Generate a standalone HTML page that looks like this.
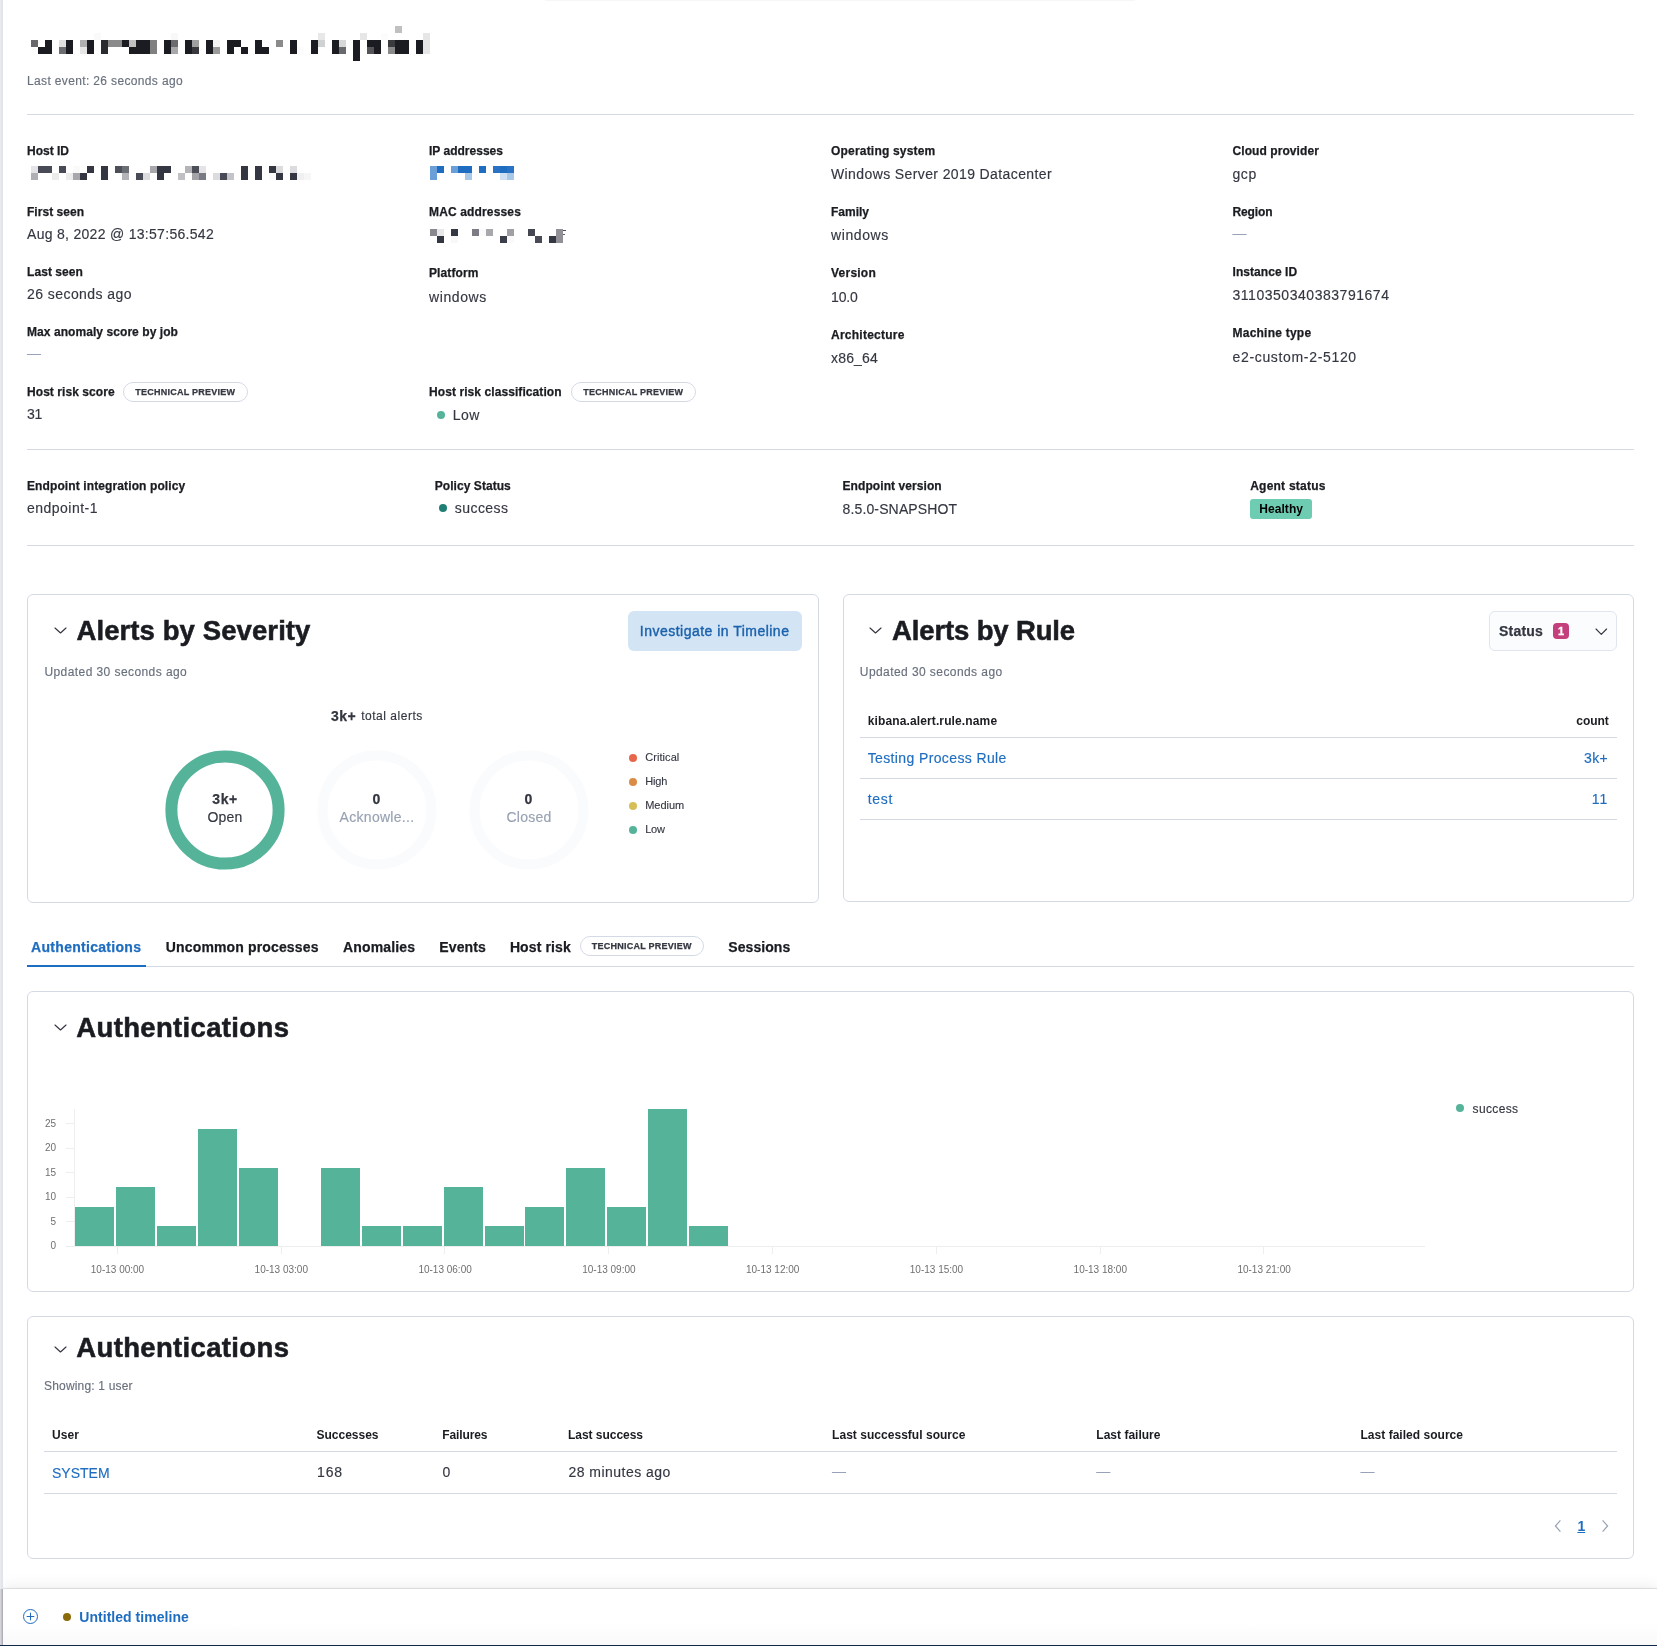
<!DOCTYPE html>
<html lang="en"><head><meta charset="utf-8"><title>Host details</title>
<style>
html,body{margin:0;padding:0;background:#fff;}
body{width:1657px;height:1646px;position:relative;overflow:hidden;font-family:"Liberation Sans",sans-serif;color:#343741;}
#root{position:absolute;left:0;top:0;width:1657px;height:1646px;will-change:transform;}
.t{position:absolute;white-space:nowrap;line-height:20px;height:20px;}
.px{position:absolute;display:block;overflow:visible;}
.hr{position:absolute;left:27px;width:1607px;height:1px;background:#d3dae6;}
.tr{position:absolute;height:1px;background:#d3dae6;}
.sub{font-size:12px;color:#69707d;-webkit-text-stroke:0.15px;}
.dt{font-size:12px;font-weight:700;color:#1a1c21;-webkit-text-stroke:0.25px #1a1c21;}
.dd{font-size:14px;color:#343741;-webkit-text-stroke:0.15px;}
.dash{color:#98a2b8;margin-top:-1px;}
.mute{color:#98a2b3;}
.link{color:#1f6dc0;}
.th{margin-top:1px;font-size:12px;font-weight:700;color:#1a1c21;}
.h2{font-size:27.5px;font-weight:700;color:#1a1c21;line-height:32px;height:32px;margin-top:-6px;-webkit-text-stroke:0.55px;}
.b14{-webkit-text-stroke:0.25px;font-size:14px;font-weight:700;color:#343741;}
.s12{font-size:12px;color:#343741;-webkit-text-stroke:0.15px;}
.leg{font-size:11px;color:#343741;-webkit-text-stroke:0.12px;margin-top:-0.7px;}
.tab{-webkit-text-stroke:0.25px;font-size:14px;font-weight:700;color:#1a1c21;}
.tab.link{color:#1f6dc0;}
.tl{font-size:14px;font-weight:700;color:#1f6dc0;}
.btnt{font-size:14px;font-weight:400;color:#1b62ad;-webkit-text-stroke:0.4px;}
.hb{font-size:12px;font-weight:700;color:#000;}
.betat{-webkit-text-stroke:0.25px;font-size:9px;font-weight:700;color:#343741;}
.nbt{font-size:11px;font-weight:700;color:#fff;-webkit-text-stroke:0.3px;}
.pg{font-size:14px;font-weight:700;color:#1f6dc0;text-decoration:underline;}
.beta{position:absolute;height:18px;border:1px solid #d3dae6;border-radius:10px;box-sizing:content-box;width:122px;}
.dot{position:absolute;width:8px;height:8px;border-radius:50%;}
.healthy{position:absolute;background:#6dccb1;border-radius:3px;}
.panel{position:absolute;box-sizing:border-box;border:1px solid #d3dae6;border-radius:6px;background:#fff;}
.btn{position:absolute;background:#d3e4f5;border-radius:6px;}
.sbtn{position:absolute;box-sizing:border-box;background:#fbfcfd;border:1px solid #e0e5f0;border-radius:6px;}
.nb{position:absolute;width:16px;height:16px;border-radius:4px;background:#c4407c;}
.tabsel{position:absolute;height:2px;background:#1f6dc0;}
.flyout{position:absolute;left:3px;top:1589px;width:1654px;height:56px;background:linear-gradient(#fff 0,#fff 60%,#f9f9f9 100%);box-shadow:0 -1px 1px rgba(0,0,0,.10),0 -3px 14px rgba(0,0,0,.07);}
.navy{position:absolute;left:0;top:1644.7px;width:1657px;height:1.3px;background:#10294a;}
.strip2{position:absolute;left:0;top:1589px;width:3px;height:56px;background:linear-gradient(90deg,#dcdce2 0,#c4c4cc 50%,#a4a5ae 100%);}
.strip{position:absolute;left:0;top:0;width:3px;height:1645px;background:linear-gradient(90deg,#e9e9ee 0,#e9e9ee 33.3%,#e4e4e9 33.3%,#e4e4e9 66.6%,#dfe3ed 66.6%,#dfe3ed 100%);}
</style></head>
<body>
<div id="root">
<svg class="px" style="left:31px;top:26px" width="399" height="35" shape-rendering="crispEdges"><rect x="0" y="14" width="7" height="7" fill="#69696b"/><rect x="0" y="21" width="7" height="7" fill="#fdfdfd"/><rect x="7" y="21" width="7" height="7" fill="#1a1c21"/><rect x="14" y="14" width="7" height="7" fill="#1a1c21"/><rect x="14" y="21" width="7" height="7" fill="#1a1c21"/><rect x="28" y="14" width="7" height="7" fill="#e0e0e0"/><rect x="28" y="21" width="7" height="7" fill="#6c6d70"/><rect x="35" y="14" width="7" height="7" fill="#1a1c21"/><rect x="35" y="21" width="7" height="7" fill="#1a1c21"/><rect x="49" y="14" width="7" height="7" fill="#b0b0b2"/><rect x="49" y="21" width="7" height="7" fill="#e6e6e6"/><rect x="56" y="14" width="7" height="7" fill="#1a1c21"/><rect x="56" y="21" width="7" height="7" fill="#1a1c21"/><rect x="63" y="7" width="7" height="7" fill="#fafafa"/><rect x="70" y="14" width="7" height="7" fill="#2a2b2f"/><rect x="70" y="21" width="7" height="7" fill="#2a2b2f"/><rect x="77" y="14" width="7" height="7" fill="#8a8a8b"/><rect x="84" y="14" width="7" height="7" fill="#8a8a8b"/><rect x="91" y="14" width="7" height="7" fill="#1a1c21"/><rect x="98" y="14" width="7" height="7" fill="#c0c0c0"/><rect x="98" y="21" width="7" height="7" fill="#1a1c21"/><rect x="105" y="14" width="7" height="7" fill="#1a1c21"/><rect x="105" y="21" width="7" height="7" fill="#1a1c21"/><rect x="112" y="14" width="7" height="7" fill="#1a1c21"/><rect x="112" y="21" width="7" height="7" fill="#1a1c21"/><rect x="119" y="14" width="7" height="7" fill="#808081"/><rect x="119" y="21" width="7" height="7" fill="#808081"/><rect x="133" y="14" width="7" height="7" fill="#1a1c21"/><rect x="133" y="21" width="7" height="7" fill="#1a1c21"/><rect x="140" y="7" width="7" height="7" fill="#f8f8f8"/><rect x="140" y="14" width="7" height="7" fill="#6b6b6d"/><rect x="140" y="21" width="7" height="7" fill="#a8a8aa"/><rect x="154" y="14" width="7" height="7" fill="#1a1c21"/><rect x="154" y="21" width="7" height="7" fill="#1a1c21"/><rect x="161" y="14" width="7" height="7" fill="#a0a0a1"/><rect x="161" y="21" width="7" height="7" fill="#38393d"/><rect x="175" y="14" width="7" height="7" fill="#1a1c21"/><rect x="175" y="21" width="7" height="7" fill="#1a1c21"/><rect x="182" y="14" width="7" height="7" fill="#f4f4f4"/><rect x="182" y="21" width="7" height="7" fill="#9a9a9b"/><rect x="196" y="14" width="7" height="7" fill="#1a1c21"/><rect x="196" y="21" width="7" height="7" fill="#1a1c21"/><rect x="203" y="14" width="7" height="7" fill="#1a1c21"/><rect x="210" y="21" width="7" height="7" fill="#1a1c21"/><rect x="224" y="14" width="7" height="7" fill="#1a1c21"/><rect x="224" y="21" width="7" height="7" fill="#1a1c21"/><rect x="231" y="14" width="7" height="7" fill="#fdfdfd"/><rect x="231" y="21" width="7" height="7" fill="#1a1c21"/><rect x="245" y="14" width="7" height="7" fill="#8a8a8b"/><rect x="259" y="14" width="7" height="7" fill="#1a1c21"/><rect x="259" y="21" width="7" height="7" fill="#1a1c21"/><rect x="266" y="21" width="7" height="7" fill="#fcfcfc"/><rect x="280" y="14" width="7" height="7" fill="#1a1c21"/><rect x="280" y="21" width="7" height="7" fill="#1a1c21"/><rect x="287" y="7" width="7" height="7" fill="#e8e8e8"/><rect x="287" y="14" width="7" height="7" fill="#d0d1d3"/><rect x="301" y="14" width="7" height="7" fill="#1a1c21"/><rect x="301" y="21" width="7" height="7" fill="#1a1c21"/><rect x="308" y="14" width="7" height="7" fill="#d8d8d8"/><rect x="308" y="21" width="7" height="7" fill="#68696c"/><rect x="322" y="14" width="7" height="7" fill="#1a1c21"/><rect x="322" y="21" width="7" height="7" fill="#1a1c21"/><rect x="322" y="28" width="7" height="7" fill="#1a1c21"/><rect x="329" y="7" width="7" height="7" fill="#e6e6e6"/><rect x="336" y="14" width="7" height="7" fill="#1a1c21"/><rect x="336" y="21" width="7" height="7" fill="#555558"/><rect x="343" y="14" width="7" height="7" fill="#1a1c21"/><rect x="343" y="21" width="7" height="7" fill="#1a1c21"/><rect x="350" y="7" width="7" height="7" fill="#fcfcfc"/><rect x="357" y="14" width="7" height="7" fill="#3a3b3f"/><rect x="357" y="21" width="7" height="7" fill="#8a8a8b"/><rect x="364" y="0" width="7" height="7" fill="#c0c0c0"/><rect x="364" y="14" width="7" height="7" fill="#1a1c21"/><rect x="364" y="21" width="7" height="7" fill="#1a1c21"/><rect x="371" y="14" width="7" height="7" fill="#1a1c21"/><rect x="371" y="21" width="7" height="7" fill="#1a1c21"/><rect x="385" y="14" width="7" height="7" fill="#1a1c21"/><rect x="385" y="21" width="7" height="7" fill="#1a1c21"/><rect x="392" y="7" width="7" height="7" fill="#e6e6e6"/><rect x="392" y="14" width="7" height="7" fill="#e6e6e6"/><rect x="392" y="21" width="7" height="7" fill="#e6e6e6"/></svg>
<svg class="px" style="left:31px;top:166px" width="280" height="14" shape-rendering="crispEdges"><rect x="0" y="0" width="7" height="7" fill="#e4e4e6"/><rect x="0" y="7" width="7" height="7" fill="#b0b0b4"/><rect x="7" y="0" width="7" height="7" fill="#484a55"/><rect x="14" y="0" width="7" height="7" fill="#484a55"/><rect x="21" y="7" width="7" height="7" fill="#ececec"/><rect x="28" y="0" width="7" height="7" fill="#484a55"/><rect x="35" y="7" width="7" height="7" fill="#ececec"/><rect x="42" y="0" width="7" height="7" fill="#fafafa"/><rect x="42" y="7" width="7" height="7" fill="#a8a8ac"/><rect x="49" y="7" width="7" height="7" fill="#343741"/><rect x="56" y="0" width="7" height="7" fill="#343741"/><rect x="70" y="0" width="7" height="7" fill="#343741"/><rect x="70" y="7" width="7" height="7" fill="#343741"/><rect x="84" y="0" width="7" height="7" fill="#4c4e58"/><rect x="91" y="0" width="7" height="7" fill="#6c6e76"/><rect x="91" y="7" width="7" height="7" fill="#b4b4b8"/><rect x="105" y="7" width="7" height="7" fill="#484a55"/><rect x="112" y="7" width="7" height="7" fill="#dcdcde"/><rect x="119" y="0" width="7" height="7" fill="#a8a8ac"/><rect x="126" y="0" width="7" height="7" fill="#343741"/><rect x="126" y="7" width="7" height="7" fill="#343741"/><rect x="133" y="0" width="7" height="7" fill="#343741"/><rect x="147" y="7" width="7" height="7" fill="#c0c0c4"/><rect x="154" y="0" width="7" height="7" fill="#b4b4b8"/><rect x="161" y="0" width="7" height="7" fill="#4c4e58"/><rect x="161" y="7" width="7" height="7" fill="#a4a4a8"/><rect x="168" y="0" width="7" height="7" fill="#e4e4e6"/><rect x="168" y="7" width="7" height="7" fill="#787a84"/><rect x="182" y="7" width="7" height="7" fill="#dcdcde"/><rect x="189" y="7" width="7" height="7" fill="#484a55"/><rect x="196" y="7" width="7" height="7" fill="#c4c4c8"/><rect x="210" y="0" width="7" height="7" fill="#343741"/><rect x="210" y="7" width="7" height="7" fill="#343741"/><rect x="224" y="0" width="7" height="7" fill="#343741"/><rect x="224" y="7" width="7" height="7" fill="#343741"/><rect x="238" y="0" width="7" height="7" fill="#343741"/><rect x="238" y="7" width="7" height="7" fill="#fafafa"/><rect x="245" y="0" width="7" height="7" fill="#dcdcde"/><rect x="245" y="7" width="7" height="7" fill="#343741"/><rect x="259" y="0" width="7" height="7" fill="#dcdcde"/><rect x="259" y="7" width="7" height="7" fill="#343741"/><rect x="266" y="7" width="7" height="7" fill="#f0f0f0"/><rect x="273" y="7" width="7" height="7" fill="#f6f6f6"/></svg>
<svg class="px" style="left:430px;top:166px" width="84" height="14" shape-rendering="crispEdges"><rect x="0" y="0" width="7" height="7" fill="#6a9fd8"/><rect x="0" y="7" width="7" height="7" fill="#6a9fd8"/><rect x="7" y="0" width="7" height="7" fill="#1f6dc0"/><rect x="21" y="0" width="7" height="7" fill="#6a9fd8"/><rect x="28" y="0" width="7" height="7" fill="#1f6dc0"/><rect x="35" y="0" width="7" height="7" fill="#1f6dc0"/><rect x="35" y="7" width="7" height="7" fill="#a8c8e8"/><rect x="49" y="0" width="7" height="7" fill="#1f6dc0"/><rect x="63" y="0" width="7" height="7" fill="#2a72c4"/><rect x="70" y="0" width="7" height="7" fill="#1f6dc0"/><rect x="70" y="7" width="7" height="7" fill="#cfe0f2"/><rect x="77" y="0" width="7" height="7" fill="#2a72c4"/><rect x="77" y="7" width="7" height="7" fill="#a8c8e8"/></svg>
<svg class="px" style="left:430px;top:229px" width="140" height="14" shape-rendering="crispEdges"><rect x="0" y="0" width="7" height="7" fill="#88888e"/><rect x="7" y="0" width="7" height="7" fill="#e8e8ea"/><rect x="7" y="7" width="7" height="7" fill="#343741"/><rect x="21" y="0" width="7" height="7" fill="#343741"/><rect x="21" y="7" width="7" height="7" fill="#f8f8f8"/><rect x="42" y="0" width="7" height="7" fill="#7c7c84"/><rect x="49" y="0" width="7" height="7" fill="#fafafa"/><rect x="56" y="0" width="7" height="7" fill="#a8a8ac"/><rect x="70" y="7" width="7" height="7" fill="#3c3e4a"/><rect x="77" y="0" width="7" height="7" fill="#a0a0a4"/><rect x="77" y="7" width="7" height="7" fill="#fafafa"/><rect x="98" y="0" width="7" height="7" fill="#444650"/><rect x="105" y="7" width="7" height="7" fill="#484a55"/><rect x="119" y="7" width="7" height="7" fill="#343741"/><rect x="126" y="0" width="7" height="7" fill="#909096"/><rect x="126" y="7" width="7" height="7" fill="#909096"/><rect x="133" y="1" width="2.8" height="1" fill="#4a4c58"/><rect x="133" y="5.2" width="2" height="1" fill="#5a5c66"/></svg>
<div class="t sub" style="top:70.5px;left:27.0px;letter-spacing:0.354px;">Last event: 26 seconds ago</div>
<div class="hr" style="top:114px"></div>
<div class="t dt" style="top:140.5px;left:27.0px;letter-spacing:0.000px;">Host ID</div>
<div class="t dt" style="top:201.5px;left:27.0px;letter-spacing:0.030px;">First seen</div>
<div class="t dd" style="top:224.0px;left:27.0px;letter-spacing:0.298px;">Aug 8, 2022 @ 13:57:56.542</div>
<div class="t dt" style="top:261.5px;left:27.0px;letter-spacing:0.071px;">Last seen</div>
<div class="t dd" style="top:284.0px;left:27.0px;letter-spacing:0.438px;">26 seconds ago</div>
<div class="t dt" style="top:321.5px;left:27.0px;letter-spacing:0.067px;">Max anomaly score by job</div>
<div class="t dd dash" style="top:343.5px;left:27.0px;letter-spacing:0.000px;">—</div>
<div class="t dt" style="top:381.5px;left:27.0px;letter-spacing:0.066px;">Host risk score</div>
<div class="beta" style="box-sizing:border-box;height:20px;left:123px;top:382px;width:124.5px"></div>
<div class="t betat" style="top:382.0px;left:135.3px;letter-spacing:0.244px;">TECHNICAL PREVIEW</div>
<div class="t dd" style="top:404.0px;left:27.0px;letter-spacing:-0.289px;">31</div>
<div class="t dt" style="top:140.5px;left:429.0px;letter-spacing:0.014px;">IP addresses</div>
<div class="t dt" style="top:201.5px;left:429.0px;letter-spacing:0.150px;">MAC addresses</div>
<div class="t dt" style="top:262.5px;left:429.0px;letter-spacing:0.115px;">Platform</div>
<div class="t dd" style="top:287.0px;left:429.0px;letter-spacing:0.585px;">windows</div>
<div class="t dt" style="top:381.5px;left:429.0px;letter-spacing:0.082px;">Host risk classification</div>
<div class="beta" style="box-sizing:border-box;height:20px;left:571px;top:382px;width:124.5px"></div>
<div class="t betat" style="top:382.0px;left:583.3px;letter-spacing:0.244px;">TECHNICAL PREVIEW</div>
<div class="dot" style="left:437px;top:411px;background:#54b399"></div>
<div class="t dd" style="top:405.0px;left:452.8px;letter-spacing:0.438px;">Low</div>
<div class="t dt" style="top:140.5px;left:831.0px;letter-spacing:0.195px;">Operating system</div>
<div class="t dd" style="top:164.0px;left:831.0px;letter-spacing:0.389px;">Windows Server 2019 Datacenter</div>
<div class="t dt" style="top:201.5px;left:831.0px;letter-spacing:-0.003px;">Family</div>
<div class="t dd" style="top:225.0px;left:831.0px;letter-spacing:0.585px;">windows</div>
<div class="t dt" style="top:262.5px;left:831.0px;letter-spacing:0.234px;">Version</div>
<div class="t dd" style="top:287.0px;left:831.0px;letter-spacing:-0.113px;">10.0</div>
<div class="t dt" style="top:324.5px;left:831.0px;letter-spacing:0.251px;">Architecture</div>
<div class="t dd" style="top:348.0px;left:831.0px;letter-spacing:0.177px;">x86_64</div>
<div class="t dt" style="top:140.5px;left:1232.5px;letter-spacing:0.076px;">Cloud provider</div>
<div class="t dd" style="top:164.0px;left:1232.5px;letter-spacing:0.572px;">gcp</div>
<div class="t dt" style="top:201.5px;left:1232.5px;letter-spacing:-0.112px;">Region</div>
<div class="t dd dash" style="top:224.0px;left:1232.5px;letter-spacing:0.000px;">—</div>
<div class="t dt" style="top:261.5px;left:1232.5px;letter-spacing:0.061px;">Instance ID</div>
<div class="t dd" style="top:285.0px;left:1232.5px;letter-spacing:0.531px;">3110350340383791674</div>
<div class="t dt" style="top:322.5px;left:1232.5px;letter-spacing:0.231px;">Machine type</div>
<div class="t dd" style="top:347.0px;left:1232.5px;letter-spacing:0.667px;">e2-custom-2-5120</div>
<div class="hr" style="top:449px"></div>
<div class="t dt" style="top:475.5px;left:27.0px;letter-spacing:0.110px;">Endpoint integration policy</div>
<div class="t dd" style="top:498.0px;left:27.0px;letter-spacing:0.483px;">endpoint-1</div>
<div class="t dt" style="top:475.5px;left:434.8px;letter-spacing:0.049px;">Policy Status</div>
<div class="dot" style="left:439px;top:504px;background:#1f7f75"></div>
<div class="t dd" style="top:498.0px;left:454.8px;letter-spacing:0.431px;">success</div>
<div class="t dt" style="top:475.5px;left:842.5px;letter-spacing:0.080px;">Endpoint version</div>
<div class="t dd" style="top:499.0px;left:842.5px;letter-spacing:0.141px;">8.5.0-SNAPSHOT</div>
<div class="t dt" style="top:475.5px;left:1250.2px;letter-spacing:0.227px;">Agent status</div>
<div class="healthy" style="left:1250px;top:499px;width:62px;height:20px"></div>
<div class="t hb" style="top:499.3px;left:1259.2px;letter-spacing:0.078px;">Healthy</div>
<div class="hr" style="top:545px"></div>
<div class="panel" style="left:27px;top:594px;width:792px;height:309px"></div>
<svg class="px" style="left:53.7px;top:627.4px" width="13" height="7" viewBox="-1 -1 13 7"><path d="M0 0 L5.5 5 L11 0" fill="none" stroke="#343741" stroke-width="1.15" stroke-linecap="round" stroke-linejoin="round"/></svg>
<div class="t h2" style="top:620.5px;left:76.5px;letter-spacing:0.092px;">Alerts by Severity</div>
<div class="btn" style="left:628px;top:611px;width:174px;height:40px"></div>
<div class="t btnt" style="top:621.0px;left:639.8px;letter-spacing:0.482px;">Investigate in Timeline</div>
<div class="t sub" style="top:661.5px;left:44.4px;letter-spacing:0.425px;">Updated 30 seconds ago</div>
<div class="t b14" style="top:705.5px;left:331.0px;letter-spacing:0.515px;">3k+</div>
<div class="t s12" style="top:705.8px;left:361.2px;letter-spacing:0.519px;">total alerts</div>
<svg class="px" style="left:160px;top:745px" width="440" height="130">
<circle cx="65" cy="65" r="53.6" fill="none" stroke="#54b399" stroke-width="12"/>
<circle cx="217" cy="65" r="54.5" fill="none" stroke="#fafbfd" stroke-width="10"/>
<circle cx="369" cy="65" r="54.5" fill="none" stroke="#fafbfd" stroke-width="10"/>
</svg>
<div class="t b14" style="top:788.6px;left:25.0px;width:400px;text-align:center;letter-spacing:0.515px;"><span>3k+</span></div>
<div class="t dd" style="top:807.0px;left:25.0px;width:400px;text-align:center;letter-spacing:0.188px;"><span>Open</span></div>
<div class="t b14" style="top:788.6px;left:177.0px;width:400px;text-align:center;letter-spacing:1.203px;"><span>0</span></div>
<div class="t dd mute" style="top:807.0px;left:177.0px;width:400px;text-align:center;letter-spacing:0.291px;"><span>Acknowle...</span></div>
<div class="t b14" style="top:788.6px;left:329.0px;width:400px;text-align:center;letter-spacing:1.203px;"><span>0</span></div>
<div class="t dd mute" style="top:807.0px;left:329.0px;width:400px;text-align:center;letter-spacing:0.237px;"><span>Closed</span></div>
<div class="dot" style="left:628.5px;top:753.5px;background:#e7664c"></div>
<div class="t leg" style="top:747.5px;left:645.2px;letter-spacing:0.072px;">Critical</div>
<div class="dot" style="left:628.5px;top:777.5px;background:#da8b45"></div>
<div class="t leg" style="top:771.5px;left:645.2px;letter-spacing:-0.156px;">High</div>
<div class="dot" style="left:628.5px;top:801.5px;background:#d6bf57"></div>
<div class="t leg" style="top:795.5px;left:645.2px;letter-spacing:-0.021px;">Medium</div>
<div class="dot" style="left:628.5px;top:825.5px;background:#54b399"></div>
<div class="t leg" style="top:819.5px;left:645.2px;letter-spacing:-0.195px;">Low</div>
<div class="panel" style="left:843px;top:594px;width:791px;height:308px"></div>
<svg class="px" style="left:869.1px;top:627.4px" width="13" height="7" viewBox="-1 -1 13 7"><path d="M0 0 L5.5 5 L11 0" fill="none" stroke="#343741" stroke-width="1.15" stroke-linecap="round" stroke-linejoin="round"/></svg>
<div class="t h2" style="top:620.5px;left:892.0px;letter-spacing:-0.137px;">Alerts by Rule</div>
<div class="sbtn" style="left:1489px;top:611px;width:128px;height:40px"></div>
<div class="t b14" style="top:621.0px;left:1499.0px;letter-spacing:0.201px;">Status</div>
<div class="nb" style="left:1553px;top:623px"></div>
<div class="t nbt" style="top:621.0px;left:1361.0px;width:400px;text-align:center;"><span>1</span></div>
<svg class="px" style="left:1594.7px;top:627.6px" width="12.6" height="7.3" viewBox="-1 -1 12.6 7.3"><path d="M0 0 L5.3 5.3 L10.6 0" fill="none" stroke="#343741" stroke-width="1.15" stroke-linecap="round" stroke-linejoin="round"/></svg>
<div class="t sub" style="top:661.5px;left:859.8px;letter-spacing:0.425px;">Updated 30 seconds ago</div>
<div class="t th" style="top:710.4px;left:867.7px;letter-spacing:0.126px;">kibana.alert.rule.name</div>
<div class="t th" style="top:710.4px;right:48.4px;letter-spacing:-0.075px;">count</div>
<div class="tr" style="left:860px;top:737px;width:757px"></div>
<div class="t dd link" style="top:747.8px;left:867.7px;letter-spacing:0.375px;">Testing Process Rule</div>
<div class="t dd link" style="top:747.8px;right:48.8px;letter-spacing:0.442px;">3k+</div>
<div class="tr" style="left:860px;top:778px;width:757px"></div>
<div class="t dd link" style="top:789.0px;left:867.7px;letter-spacing:0.683px;">test</div>
<div class="t dd link" style="top:789.0px;right:48.8px;letter-spacing:0.926px;">11</div>
<div class="tr" style="left:860px;top:819px;width:757px"></div>
<div class="t tab link" style="top:937.0px;left:31.1px;letter-spacing:0.294px;">Authentications</div>
<div class="hr" style="top:966px"></div>
<div class="tabsel" style="left:27px;top:965px;width:119px"></div>
<div class="t tab" style="top:937.0px;left:165.8px;letter-spacing:0.146px;">Uncommon processes</div>
<div class="t tab" style="top:937.0px;left:343.1px;letter-spacing:0.132px;">Anomalies</div>
<div class="t tab" style="top:937.0px;left:439.3px;letter-spacing:0.113px;">Events</div>
<div class="t tab" style="top:937.0px;left:509.9px;letter-spacing:0.120px;">Host risk</div>
<div class="beta" style="box-sizing:border-box;height:20px;left:579.5px;top:936px;width:124.5px"></div>
<div class="t betat" style="top:936.0px;left:591.8px;letter-spacing:0.244px;">TECHNICAL PREVIEW</div>
<div class="t tab" style="top:937.0px;left:728.3px;letter-spacing:0.064px;">Sessions</div>
<div class="panel" style="left:27px;top:991px;width:1607px;height:301px"></div>
<svg class="px" style="left:53.7px;top:1024.1px" width="13" height="7" viewBox="-1 -1 13 7"><path d="M0 0 L5.5 5 L11 0" fill="none" stroke="#343741" stroke-width="1.15" stroke-linecap="round" stroke-linejoin="round"/></svg>
<div class="t h2" style="top:1018.3px;left:76.3px;letter-spacing:0.347px;">Authentications</div>
<svg class="px" style="left:0;top:1095px" width="1657" height="190" font-family="Liberation Sans, sans-serif"><g stroke="#eeeeee" stroke-width="1" shape-rendering="crispEdges"><line x1="66" y1="151.5" x2="1425" y2="151.5"/><line x1="74.5" y1="14" x2="74.5" y2="151"/><line x1="66" y1="151.5" x2="74" y2="151.5"/><line x1="66" y1="126.5" x2="74" y2="126.5"/><line x1="66" y1="102.5" x2="74" y2="102.5"/><line x1="66" y1="77.5" x2="74" y2="77.5"/><line x1="66" y1="53.5" x2="74" y2="53.5"/><line x1="66" y1="28.5" x2="74" y2="28.5"/><line x1="117.5" y1="151" x2="117.5" y2="159"/><line x1="281.5" y1="151" x2="281.5" y2="159"/><line x1="444.5" y1="151" x2="444.5" y2="159"/><line x1="608.5" y1="151" x2="608.5" y2="159"/><line x1="772.5" y1="151" x2="772.5" y2="159"/><line x1="936.5" y1="151" x2="936.5" y2="159"/><line x1="1100.5" y1="151" x2="1100.5" y2="159"/><line x1="1263.5" y1="151" x2="1263.5" y2="159"/></g><g fill="#54b399" shape-rendering="crispEdges"><rect x="75" y="112" width="39" height="39"/><rect x="116" y="92" width="39" height="59"/><rect x="157" y="131" width="39" height="20"/><rect x="198" y="34" width="39" height="117"/><rect x="239" y="73" width="39" height="78"/><rect x="321" y="73" width="39" height="78"/><rect x="362" y="131" width="39" height="20"/><rect x="403" y="131" width="39" height="20"/><rect x="444" y="92" width="39" height="59"/><rect x="485" y="131" width="39" height="20"/><rect x="525" y="112" width="39" height="39"/><rect x="566" y="73" width="39" height="78"/><rect x="607" y="112" width="39" height="39"/><rect x="648" y="14" width="39" height="137"/><rect x="689" y="131" width="39" height="20"/></g><g fill="#6f6f6f" font-size="10" text-anchor="end"><text x="56" y="154.0">0</text><text x="56" y="129.6">5</text><text x="56" y="105.1">10</text><text x="56" y="80.7">15</text><text x="56" y="56.2">20</text><text x="56" y="31.8">25</text></g><g fill="#6f6f6f" font-size="10" text-anchor="middle"><text x="117.5" y="177.6">10-13 00:00</text><text x="281.3" y="177.6">10-13 03:00</text><text x="445.1" y="177.6">10-13 06:00</text><text x="608.9" y="177.6">10-13 09:00</text><text x="772.7" y="177.6">10-13 12:00</text><text x="936.5" y="177.6">10-13 15:00</text><text x="1100.3" y="177.6">10-13 18:00</text><text x="1264.1" y="177.6">10-13 21:00</text></g></svg>
<div class="dot" style="left:1456px;top:1104px;background:#54b399"></div>
<div class="t s12 dk" style="top:1098.5px;left:1472.5px;letter-spacing:0.377px;">success</div>
<div class="panel" style="left:27px;top:1316px;width:1607px;height:243px"></div>
<svg class="px" style="left:53.5px;top:1345.5px" width="13" height="7" viewBox="-1 -1 13 7"><path d="M0 0 L5.5 5 L11 0" fill="none" stroke="#343741" stroke-width="1.15" stroke-linecap="round" stroke-linejoin="round"/></svg>
<div class="t h2" style="top:1338.0px;left:76.3px;letter-spacing:0.347px;">Authentications</div>
<div class="t sub" style="top:1375.7px;left:44.0px;letter-spacing:0.176px;">Showing: 1 user</div>
<div class="t th" style="top:1423.8px;left:52.0px;letter-spacing:0.078px;">User</div>
<div class="t th" style="top:1423.8px;left:316.5px;letter-spacing:-0.007px;">Successes</div>
<div class="t th" style="top:1423.8px;left:442.3px;letter-spacing:-0.129px;">Failures</div>
<div class="t th" style="top:1423.8px;left:568.0px;letter-spacing:-0.033px;">Last success</div>
<div class="t th" style="top:1423.8px;left:832.1px;letter-spacing:0.030px;">Last successful source</div>
<div class="t th" style="top:1423.8px;left:1096.3px;letter-spacing:0.015px;">Last failure</div>
<div class="t th" style="top:1423.8px;left:1360.5px;letter-spacing:0.025px;">Last failed source</div>
<div class="tr" style="left:44px;top:1451px;width:1573px"></div>
<div class="t dd link" style="top:1462.8px;left:52.0px;letter-spacing:0.004px;">SYSTEM</div>
<div class="t dd" style="top:1462.0px;left:317.0px;letter-spacing:0.880px;">168</div>
<div class="t dd" style="top:1462.0px;left:442.6px;letter-spacing:0.203px;">0</div>
<div class="t dd" style="top:1462.0px;left:568.5px;letter-spacing:0.462px;">28 minutes ago</div>
<div class="t dd dash" style="top:1461.7px;left:832.1px;letter-spacing:0.000px;">—</div>
<div class="t dd dash" style="top:1461.7px;left:1096.3px;letter-spacing:0.000px;">—</div>
<div class="t dd dash" style="top:1461.7px;left:1360.5px;letter-spacing:0.000px;">—</div>
<div class="tr" style="left:44px;top:1493px;width:1573px"></div>
<svg class="px" style="left:1553px;top:1518px" width="10" height="16" viewBox="0 0 10 16"><path d="M7.4 2.4 L2.4 8 L7.4 13.6" fill="none" stroke="#98a2b3" stroke-width="1.2" stroke-linejoin="miter"/></svg>
<svg class="px" style="left:1600px;top:1518px" width="10" height="16" viewBox="0 0 10 16"><path d="M2.6 2.4 L7.6 8 L2.6 13.6" fill="none" stroke="#98a2b3" stroke-width="1.2" stroke-linejoin="miter"/></svg>
<div class="t pg" style="top:1516.0px;left:1381.3px;width:400px;text-align:center;"><span>1</span></div>
<div style="position:absolute;left:545px;top:0;width:590px;height:1px;background:#f7f7f7"></div>
<div class="flyout"></div>
<svg class="px" style="left:22px;top:1608px" width="17" height="17" viewBox="0 0 17 17"><circle cx="8.5" cy="8.5" r="7" fill="none" stroke="#1f6dc0" stroke-width="1"/><path d="M8.5 4.7v7.6M4.7 8.5h7.6" stroke="#1f6dc0" stroke-width="1" fill="none"/></svg>
<div class="dot" style="left:63px;top:1613px;background:#8a6a0a"></div>
<div class="t tl" style="top:1606.8px;left:79.3px;letter-spacing:0.035px;">Untitled timeline</div>
<div class="navy"></div>
<div class="strip"></div>
<div class="strip2"></div>
</div>
</body></html>
